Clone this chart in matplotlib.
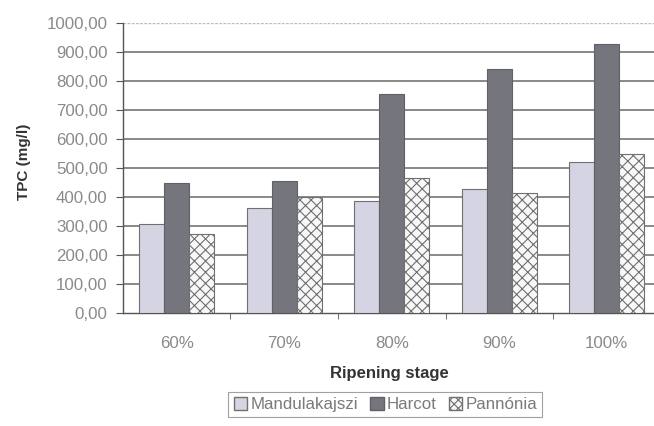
import numpy as np
import matplotlib.pyplot as plt
from matplotlib.patches import Patch

plt.rcParams['font.family'] = ['Liberation Sans', 'DejaVu Sans']
plt.rcParams['hatch.color'] = '#9a9a9a'
plt.rcParams['hatch.linewidth'] = 0.8

stages = ['60%', '70%', '80%', '90%', '100%']
mandulakajszi = [308, 361, 388, 427, 520]
harcot = [450, 454, 756, 841, 926]
pannonia = [273, 400, 465, 413, 548]

fig = plt.figure(figsize=(6.54, 4.26), dpi=100)
ax = fig.add_axes([0.188, 0.2646, 0.822, 0.682])

x = np.arange(len(stages))
w = 0.233
edge = '#707070'
ax.bar(x - w, mandulakajszi, w, color='#d4d4e2', edgecolor=edge, linewidth=0.8, zorder=3)
ax.bar(x, harcot, w, color='#75757d', edgecolor='#606068', linewidth=0.8, zorder=3)
ax.bar(x + w, pannonia, w, color='#f8f8f8', edgecolor=edge, linewidth=0.8,
       hatch='xxx', zorder=3)

ax.set_xlim(-0.5, len(stages) - 0.5)
ax.set_ylim(0, 1000)
ax.set_yticks(np.arange(0, 1001, 100))
ax.set_yticklabels([f'{v:.2f}'.replace('.', ',') for v in range(0, 1001, 100)])
ax.set_xticks(x)
ax.set_xticklabels(stages)
ax.set_xticks(np.arange(0.5, len(stages) - 0.5, 1), minor=True)

# gridlines
for v in range(100, 1000, 100):
    ax.axhline(v, color='#6a6a6a', linewidth=1.1, zorder=1)
ax.axhline(1000, color='#bdbdbd', linewidth=1.0, linestyle=(0, (2, 1)), zorder=1)

for s in ['top', 'right']:
    ax.spines[s].set_visible(False)
for s in ['left', 'bottom']:
    ax.spines[s].set_color('#555555')
    ax.spines[s].set_linewidth(1.0)

ax.tick_params(axis='y', length=5, color='#555555', labelsize=12.2, labelcolor='#8a8a8a', pad=6)
ax.tick_params(axis='x', which='major', length=0, labelsize=12.2, labelcolor='#8a8a8a', pad=16)
ax.tick_params(axis='x', which='minor', length=4, color='#555555')

fig.text(0.036, 0.62, 'TPC (mg/l)', rotation=90, ha='center', va='center',
         fontsize=11, fontweight='bold', color='#333333')
fig.text(0.596, 0.124, 'Ripening stage', ha='center', va='center',
         fontsize=12, fontweight='bold', color='#333333')

handles = [Patch(facecolor='#d4d4e2', edgecolor=edge, label='Mandulakajszi'),
           Patch(facecolor='#75757d', edgecolor='#606068', label='Harcot'),
           Patch(facecolor='#f8f8f8', edgecolor=edge, hatch='xxxx', label='Pannónia')]
leg = fig.legend(handles=handles, ncol=3, loc='upper center', bbox_to_anchor=(0.5894, 0.080),
                 borderaxespad=0, frameon=True, fancybox=False, fontsize=12.2,
                 handlelength=0.8, handleheight=0.8, handletextpad=0.2, columnspacing=0.7,
                 borderpad=0.3, labelcolor='#7a7a7a')
leg.get_frame().set_edgecolor('#8a8a8a')
leg.get_frame().set_linewidth(0.8)

fig.savefig('out.png', dpi=100)
